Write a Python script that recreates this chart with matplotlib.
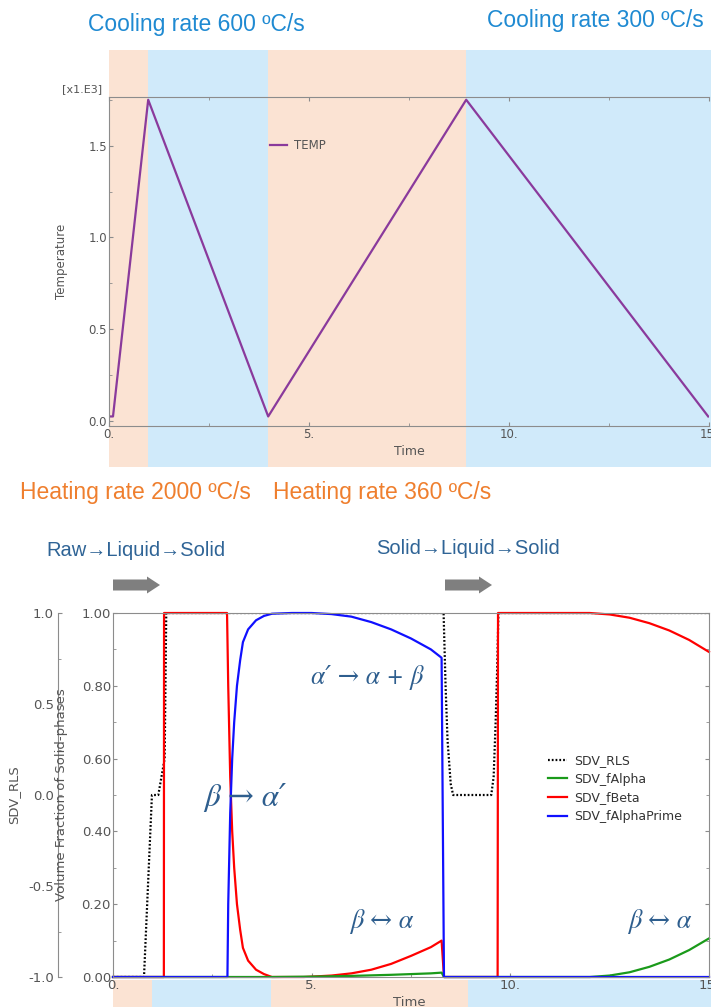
import numpy as np
import matplotlib
matplotlib.use("Agg")
import matplotlib.pyplot as plt
from matplotlib.patches import Rectangle, FancyArrow
from matplotlib.transforms import blended_transform_factory
from matplotlib.ticker import MultipleLocator, FormatStrFormatter

# --- temperature history (top) ---
temp_t = [0.0, 0.1, 0.98, 3.98, 8.93, 14.98]
temp_v = [25, 25, 1750, 25, 1750, 25]  # degC

# heating / cooling windows
band_edges = [0.0, 0.98, 3.98, 8.93, 15.4]
band_colors = ['#fbe3d3', '#d0eafa', '#fbe3d3', '#d0eafa']

# --- phase fractions (bottom) ---
rls_t = [0.0, 0.78, 0.98, 1.14, 1.30, 1.34, 8.32, 8.37, 8.42, 8.50, 8.56,
         9.52, 9.58, 9.63, 9.67, 9.70, 15.0]
rls_v = [-1.0, -1.0, 0.0, 0.0, 0.2, 1.0, 1.0, 0.6, 0.3, 0.06, 0.0,
         0.0, 0.1, 0.4, 0.7, 1.0, 1.0]

beta_t = [0.0, 1.28, 1.285, 2.87, 2.90, 2.95, 3.00, 3.05, 3.12, 3.20, 3.27, 3.40,
          3.60, 3.80, 4.00, 4.80, 5.00, 5.50, 6.00, 6.50, 7.00, 7.50, 8.00, 8.27,
          8.33, 9.68, 9.69, 12.0, 12.5, 13.0, 13.5, 14.0, 14.5, 15.0]
beta_v = [0.0, 0.0, 1.0, 1.0, 0.80, 0.55, 0.40, 0.30, 0.20, 0.13, 0.08, 0.045,
          0.02, 0.008, 0.0, 0.0, 0.001, 0.004, 0.010, 0.020, 0.036, 0.058, 0.082, 0.10,
          0.0, 0.0, 1.0, 1.0, 0.996, 0.987, 0.972, 0.952, 0.926, 0.893]

alpha_t = [0.0, 4.0, 5.0, 6.0, 7.0, 8.0, 8.27, 8.33, 12.0, 12.5, 13.0, 13.5, 14.0, 14.5, 15.0]
alpha_v = [0.0, 0.0, 0.001, 0.003, 0.006, 0.010, 0.012, 0.0, 0.0, 0.004, 0.013, 0.028, 0.048, 0.074, 0.106]

aprime_t = [0.0, 2.88, 2.90, 2.95, 3.00, 3.05, 3.12, 3.20, 3.27, 3.40, 3.60, 3.80, 4.00,
            4.50, 5.00, 5.50, 6.00, 6.50, 7.00, 7.50, 8.00, 8.27, 8.33, 15.0]
aprime_v = [0.0, 0.0, 0.20, 0.45, 0.60, 0.70, 0.80, 0.87, 0.92, 0.955, 0.98, 0.992, 0.998,
            1.0, 1.0, 0.997, 0.99, 0.975, 0.955, 0.93, 0.90, 0.877, 0.0, 0.0]

gray = '#8c8c8c'
tick_col = '#555555'

fig = plt.figure(figsize=(7.11, 10.07), dpi=100)
W, H = 711, 1007


def fx(px):
    return px / W


def fy(py):
    return 1 - py / H


# ---------------- top: temperature ----------------
ax1 = fig.add_axes([fx(109), fy(426), fx(600), 329 / H])
ax1.patch.set_visible(False)
ax1.plot(temp_t, np.array(temp_v) / 1000.0, color='#8a3a9c', lw=1.6, label='TEMP')
ax1.set_xlim(0, 15)
ax1.set_ylim(-0.027, 1.765)
for s in ['top', 'left', 'bottom']:
    ax1.spines[s].set_color(gray)
ax1.spines['right'].set_visible(False)
ax1.xaxis.set_major_locator(MultipleLocator(5))
ax1.xaxis.set_minor_locator(MultipleLocator(2.5))
ax1.xaxis.set_major_formatter(FormatStrFormatter('%d.'))
ax1.yaxis.set_major_locator(MultipleLocator(0.5))
ax1.yaxis.set_minor_locator(MultipleLocator(0.25))
ax1.yaxis.set_major_formatter(FormatStrFormatter('%.1f'))
ax1.tick_params(which='both', direction='in', color=gray, labelcolor=tick_col,
                labelsize=8.5, top=True, pad=1.5, length=3)
ax1.tick_params(which='minor', length=2)
ax1.set_xlabel('Time', fontsize=9, color=tick_col)
ax1.xaxis.set_label_coords(0.5, -0.058)
ax1.set_ylabel('Temperature', fontsize=8.5, color=tick_col)
ax1.yaxis.set_label_coords(-0.068, 0.5)
ax1.legend(loc='upper left', bbox_to_anchor=(fx(270), fy(139)), bbox_transform=fig.transFigure,
           frameon=False, fontsize=8.5, handlelength=1.4, handletextpad=0.6,
           borderpad=0, borderaxespad=0, labelcolor=tick_col)
fig.text(fx(62), fy(89), '[x1.E3]', fontsize=8, color=tick_col, va='center', ha='left')

# bands behind top chart
tr1 = blended_transform_factory(ax1.transData, fig.transFigure)
for i, c in enumerate(band_colors):
    fig.add_artist(Rectangle((band_edges[i], fy(467)), band_edges[i + 1] - band_edges[i],
                             fy(50) - fy(467), transform=tr1, facecolor=c,
                             edgecolor='none', zorder=-5))

# ---------------- bottom: phase fractions ----------------
ax2 = fig.add_axes([fx(113), fy(977), fx(596), 364 / H])
ax3 = ax2.twinx()
ax3.set_zorder(ax2.get_zorder() - 1)
ax3.patch.set_visible(True)
ax3.patch.set_facecolor('white')
ax2.patch.set_visible(False)

l_rls, = ax3.plot(rls_t, rls_v, color='black', lw=1.6, ls=(0, (0.8, 0.9)), label='SDV_RLS')
l_beta, = ax2.plot(beta_t, beta_v, color='#ff0000', lw=1.6, label='SDV_fBeta', clip_on=False)
l_alpha, = ax2.plot(alpha_t, alpha_v, color='#1a9a1a', lw=1.6, label='SDV_fAlpha', clip_on=False)
l_ap, = ax2.plot(aprime_t, aprime_v, color='#1010ff', lw=1.6, label='SDV_fAlphaPrime', clip_on=False)

ax2.set_xlim(0, 15)
ax2.set_ylim(0, 1)
ax3.set_ylim(-1, 1)
for s in ['top', 'left', 'bottom', 'right']:
    ax2.spines[s].set_color(gray)
for s in ['top', 'bottom', 'right']:
    ax3.spines[s].set_visible(False)
ax3.spines['left'].set_visible(True)
ax3.spines['left'].set_color(gray)
ax3.spines['left'].set_position(('axes', -55 / 596))
ax3.yaxis.set_ticks_position('left')
ax3.yaxis.set_label_position('left')

ax2.xaxis.set_major_locator(MultipleLocator(5))
ax2.xaxis.set_minor_locator(MultipleLocator(2.5))
ax2.xaxis.set_major_formatter(FormatStrFormatter('%d.'))
ax2.yaxis.set_major_locator(MultipleLocator(0.2))
ax2.yaxis.set_minor_locator(MultipleLocator(0.1))
ax2.yaxis.set_major_formatter(FormatStrFormatter('%.2f'))
ax2.tick_params(which='both', direction='in', color=gray, labelcolor=tick_col,
                labelsize=9.5, right=True, pad=1.5, length=3)
ax2.tick_params(which='minor', length=2)
ax3.yaxis.set_major_locator(MultipleLocator(0.5))
ax3.yaxis.set_minor_locator(MultipleLocator(0.25))
ax3.yaxis.set_major_formatter(FormatStrFormatter('%.1f'))
ax3.tick_params(which='both', direction='in', color=gray, labelcolor=tick_col,
                labelsize=9.5, pad=3, length=3)
ax3.tick_params(which='minor', length=2)

ax2.set_xlabel('Time', fontsize=9.5, color=tick_col)
ax2.xaxis.set_label_coords(0.498, -0.052)
ax2.set_ylabel('Volume Fraction of Solid-phases', fontsize=9.5, color=tick_col)
ax2.yaxis.set_label_coords(-0.0755, 0.5)
ax3.set_ylabel('SDV_RLS', fontsize=9.5, color=tick_col)
ax3.yaxis.set_label_coords(-0.156, 0.5)

ax2.legend([l_rls, l_alpha, l_beta, l_ap], ['SDV_RLS', 'SDV_fAlpha', 'SDV_fBeta', 'SDV_fAlphaPrime'],
           loc='upper left', bbox_to_anchor=(fx(548), fy(754)), bbox_transform=fig.transFigure,
           frameon=False, fontsize=9, handlelength=1.5, handletextpad=0.6,
           labelspacing=0.45, borderpad=0, borderaxespad=0, labelcolor='#333333')

tr2 = blended_transform_factory(ax2.transData, fig.transFigure)
for i, c in enumerate(band_colors):
    fig.add_artist(Rectangle((band_edges[i], 0), band_edges[i + 1] - band_edges[i],
                             fy(980), transform=tr2, facecolor=c,
                             edgecolor='none', zorder=-5))

# phase transformation notes
math_col = '#2e5e8e'
mfont = dict(family=['STIXGeneral', 'DejaVu Serif'], style='italic', color=math_col,
             ha='center', va='center')
fig.text(fx(367), fy(678), 'α′ → α + β', fontsize=18.5, **mfont)
fig.text(fx(245), fy(797), 'β → α′', fontsize=22.5, **mfont)
fig.text(fx(382), fy(922), 'β ↔ α', fontsize=19, **mfont)
fig.text(fx(660), fy(922), 'β ↔ α', fontsize=19, **mfont)

# ---------------- headings ----------------
sans = ['Liberation Sans', 'DejaVu Sans']
blue_t = '#1f8ad2'
orange_t = '#ef7f2e'
fig.text(fx(196), fy(25), 'Cooling rate 600 ºC/s', fontsize=16.5, color=blue_t,
         ha='center', va='center', family=sans)
fig.text(fx(595), fy(21), 'Cooling rate 300 ºC/s', fontsize=16.5, color=blue_t,
         ha='center', va='center', family=sans)
fig.text(fx(135), fy(493), 'Heating rate 2000 ºC/s', fontsize=16.5, color=orange_t,
         ha='center', va='center', family=sans)
fig.text(fx(382), fy(493), 'Heating rate 360 ºC/s', fontsize=16.5, color=orange_t,
         ha='center', va='center', family=sans)
fig.text(fx(136), fy(551), 'Raw→Liquid→Solid', fontsize=14.5, color='#2f6496',
         ha='center', va='center', family=sans)
fig.text(fx(468), fy(549), 'Solid→Liquid→Solid', fontsize=14.5, color='#2f6496',
         ha='center', va='center', family=sans)

for x0 in [1.13, 4.45]:
    fig.add_artist(FancyArrow(x0, 4.22, 0.34, 0, width=0.11, head_width=0.17,
                              head_length=0.13, length_includes_head=False,
                              transform=fig.dpi_scale_trans, color='#7f7f7f', lw=0))

fig.savefig('out.png', dpi=100)
